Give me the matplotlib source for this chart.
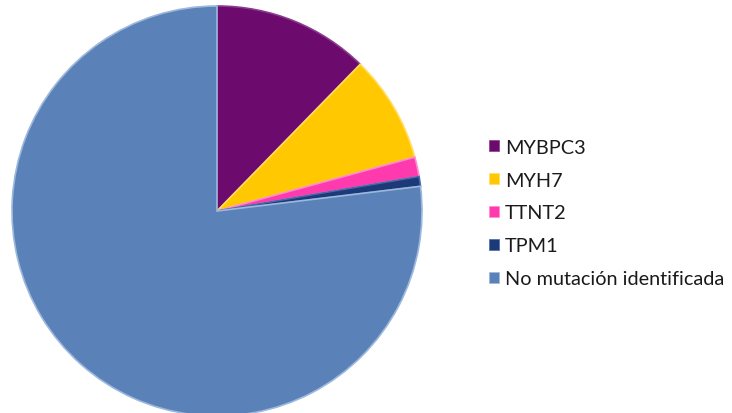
import matplotlib
matplotlib.use("Agg")
import matplotlib.pyplot as plt

# Pacientes por gen con mutación identificada
categories = ["MYBPC3", "MYH7", "TTNT2", "TPM1", "No mutación identificada"]
counts = [16, 11, 2, 1, 100]
colors = ["#6C0A6E", "#FFC800", "#FF3AAE", "#1C3A78", "#5A82B8"]
edge_colors = ["#8A3A8C", "#FFDD66", "#FF8AD0", "#4A68A8", "#9DB8DC"]

W, H = 732, 414
fig = plt.figure(figsize=(W / 100, H / 100), dpi=100)
ax = fig.add_axes([0, 0, 1, 1])

wedges, _ = ax.pie(
    counts,
    colors=colors,
    startangle=90,
    counterclock=False,
    center=(217, H - 212),
    radius=205,
    frame=True,
    wedgeprops=dict(linewidth=1.2),
)
for w, ec in zip(wedges, edge_colors):
    w.set_edgecolor(ec)
ax.set_xlim(0, W)
ax.set_ylim(0, H)
ax.set_aspect("equal")
ax.axis("off")

leg = ax.legend(
    wedges,
    categories,
    loc="center left",
    bbox_to_anchor=(489 / W, 1 - 214 / H),
    bbox_transform=fig.transFigure,
    frameon=False,
    prop=dict(family="Lato", size=14.3),
    labelcolor="#1a1a1a",
    handlelength=0.5,
    handleheight=0.5,
    handletextpad=0.3,
    labelspacing=0.8,
    borderaxespad=0,
    borderpad=0,
)
for h in leg.legend_handles:
    h.set_linewidth(0.5)

fig.savefig("out.png", dpi=100, facecolor="white")
